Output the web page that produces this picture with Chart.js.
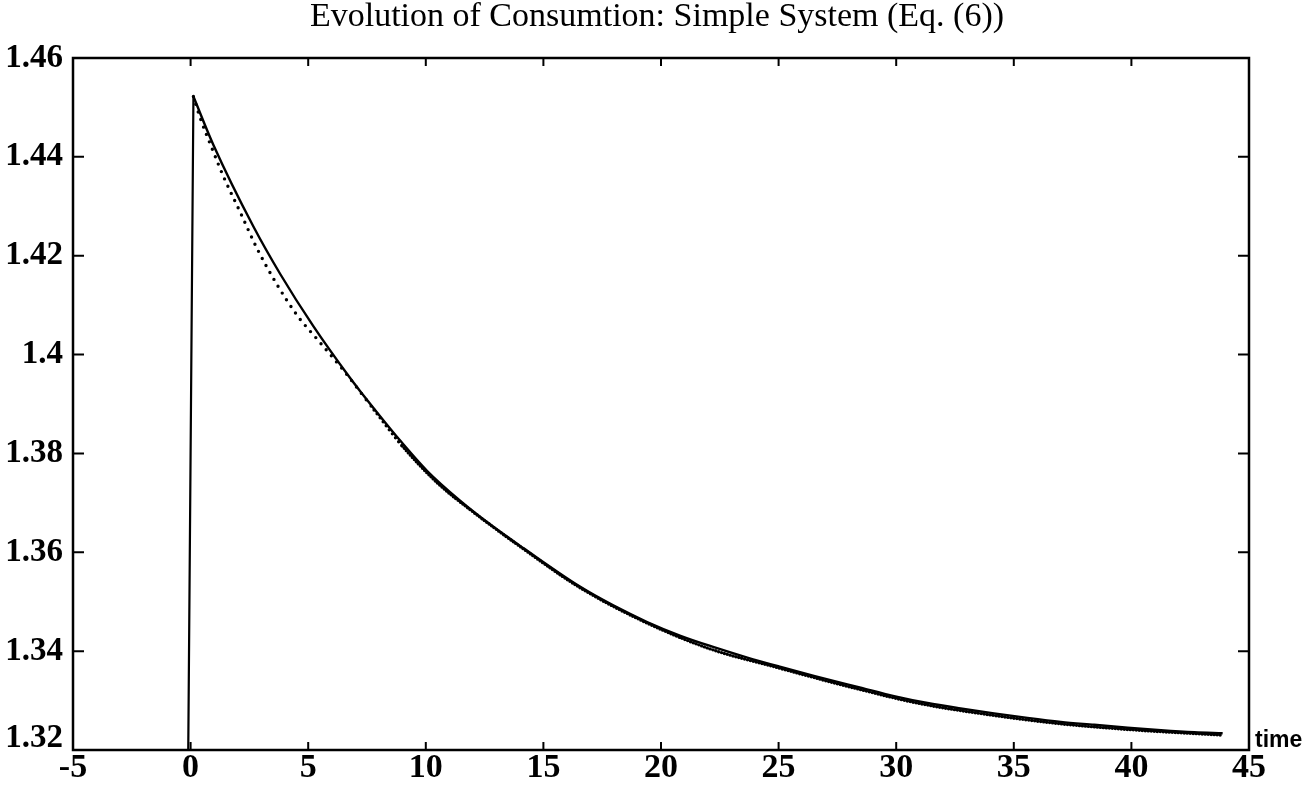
<!DOCTYPE html>
<html>
<head>
<meta charset="utf-8">
<script src="https://cdn.jsdelivr.net/npm/chart.js@4.4.0/dist/chart.umd.min.js"></script>
<style>
  html, body { margin: 0; padding: 0; background: #ffffff; }
  #wrap { width: 1314px; height: 788px; }
</style>
</head>
<body>
<div id="wrap"><canvas id="c" width="1314" height="788"></canvas></div>
<script>
const titleText = 'Evolution of Consumtion: Simple System (Eq. (6))';
const xAxisLabel = 'time';

const xTicks = [-5, 0, 5, 10, 15, 20, 25, 30, 35, 40, 45];
const xTickLabels = ['-5', '0', '5', '10', '15', '20', '25', '30', '35', '40', '45'];
const yTicks = [1.32, 1.34, 1.36, 1.38, 1.40, 1.42, 1.44, 1.46];
const yTickLabels = ['1.32', '1.34', '1.36', '1.38', '1.4', '1.42', '1.44', '1.46'];

// consumption before the shock and the jump at t = 0
const jumpTime  = [-5, -0.1, 0.12];
const jumpValue = [1.32, 1.32, 1.4522];

// solid path after the jump
const solidTime  = [0.12, 0.97, 2.67, 3.81, 5.21, 6.79, 7.21, 8.91, 10.05, 11.47, 12.89, 14.16,
                    16.57, 17.99, 19.41, 20.83, 22.25, 23.67, 25.09, 26.50, 28.49, 29.91, 31.33,
                    32.74, 34.16, 35.58, 37.00, 38.42, 39.84, 41.26, 42.68, 43.88];
const solidValue = [1.4522, 1.4424, 1.4259, 1.4163, 1.4058, 1.3952, 1.3926, 1.3826, 1.3765, 1.3704,
                    1.3651, 1.3608, 1.3530, 1.3492, 1.3459, 1.3431, 1.3408, 1.3387, 1.3368, 1.3350,
                    1.3326, 1.3309, 1.3295, 1.3284, 1.3274, 1.3265, 1.3257, 1.3251, 1.3245, 1.3240,
                    1.3236, 1.3234];

// dotted path after the jump
const dottedTime  = [0.12, 0.40, 0.97, 1.40, 2.11, 2.82, 3.67, 4.52, 5.51, 6.50, 7.80, 9.00, 10.5,
                     12.0, 14.0, 16.5, 19.0, 22.0, 25.0, 28.0, 31.0, 34.0, 37.0, 40.0, 43.88];
const dottedValue = [1.4522, 1.4480, 1.4410, 1.4360, 1.4288, 1.4215, 1.4142, 1.4080, 1.4024, 1.3968,
                     1.3888, 1.3815, 1.3740, 1.3682, 1.3612, 1.3530, 1.3466, 1.3406, 1.3366, 1.3328,
                     1.3294, 1.3271, 1.3253, 1.3241, 1.3230];

const pts = (xs, ys) => xs.map((x, i) => ({ x: x, y: ys[i] }));

const serif = '"Liberation Serif", "Times New Roman", Times, serif';

// dot spacing of the dotted path: wide near the jump, tight where it runs into the solid path
const dotDash = t => (t >= 9 ? [0, 3] : t >= 7.8 ? [0, 5] : [0, 8]);

// box frame, inward tick marks, axis name and the raised bottom y label
const framePlugin = {
  id: 'frame',
  afterDraw(chart) {
    const { ctx, chartArea: a, scales } = chart;
    const x = scales.x, y = scales.y;
    ctx.save();
    ctx.strokeStyle = '#000';
    ctx.lineWidth = 2.5;
    ctx.strokeRect(a.left, a.top, a.right - a.left, a.bottom - a.top);
    ctx.lineWidth = 2;
    ctx.beginPath();
    xTicks.slice(1, -1).forEach(v => {
      const px = x.getPixelForValue(v);
      ctx.moveTo(px, a.top); ctx.lineTo(px, a.top + 8);
      ctx.moveTo(px, a.bottom); ctx.lineTo(px, a.bottom - 8);
    });
    yTicks.slice(1, -1).forEach(v => {
      const py = y.getPixelForValue(v);
      ctx.moveTo(a.left, py); ctx.lineTo(a.left + 11, py);
      ctx.moveTo(a.right, py); ctx.lineTo(a.right - 11, py);
    });
    ctx.stroke();

    ctx.fillStyle = '#000';
    ctx.font = 'bold 23px "Liberation Sans", Arial, sans-serif';
    ctx.textAlign = 'left';
    ctx.textBaseline = 'alphabetic';
    ctx.fillText(xAxisLabel, a.right + 6, a.bottom - 3);

    ctx.font = 'bold 33px ' + serif;
    ctx.textAlign = 'right';
    ctx.textBaseline = 'middle';
    ctx.fillText(yTickLabels[0], a.left - 10, y.getPixelForValue(yTicks[0]) - 12);
    ctx.restore();
  }
};

new Chart(document.getElementById('c'), {
  type: 'line',
  data: {
    datasets: [
      {
        label: 'jump',
        data: pts(jumpTime, jumpValue),
        borderColor: '#000',
        borderWidth: 2.2,
        pointRadius: 0,
        tension: 0
      },
      {
        label: 'solid',
        data: pts(solidTime, solidValue),
        borderColor: '#000',
        borderWidth: 2.4,
        pointRadius: 0,
        cubicInterpolationMode: 'monotone'
      },
      {
        label: 'dotted',
        data: pts(dottedTime, dottedValue),
        borderColor: '#000',
        borderWidth: 3.4,
        borderCapStyle: 'round',
        borderDash: [0, 8],
        pointRadius: 0,
        cubicInterpolationMode: 'monotone',
        segment: {
          borderDash: ctx => dotDash(ctx.p0.parsed.x)
        }
      }
    ]
  },
  options: {
    responsive: false,
    animation: false,
    devicePixelRatio: 1,
    layout: { padding: 0 },
    plugins: {
      legend: { display: false },
      tooltip: { enabled: false },
      title: {
        display: true,
        text: titleText,
        color: '#000',
        font: { family: serif, size: 34, weight: 'normal', lineHeight: 0.8 },
        padding: { top: 3, bottom: 27.8 }
      }
    },
    scales: {
      x: {
        type: 'linear',
        min: -5,
        max: 45,
        afterBuildTicks: s => { s.ticks = xTicks.map(v => ({ value: v })); },
        afterFit: s => { s.height = 38; },
        grid: { display: false, drawTicks: false },
        border: { display: false },
        ticks: {
          autoSkip: false,
          maxRotation: 0,
          padding: 0,
          color: '#000',
          font: { family: serif, size: 34, weight: 'bold', lineHeight: 1.1 },
          callback: (v, i) => xTickLabels[i]
        }
      },
      y: {
        type: 'linear',
        min: 1.32,
        max: 1.46,
        afterBuildTicks: s => { s.ticks = yTicks.map(v => ({ value: v })); },
        afterFit: s => { s.width = 73; },
        grid: { display: false, drawTicks: false },
        border: { display: false },
        ticks: {
          autoSkip: false,
          padding: 10,
          color: '#000',
          font: { family: serif, size: 33, weight: 'bold' },
          callback: (v, i) => (i === 0 ? '' : yTickLabels[i])
        }
      },
      // empty right-hand margin that holds the axis name
      yRight: {
        type: 'linear',
        position: 'right',
        afterFit: s => { s.width = 65; },
        grid: { display: false, drawTicks: false },
        border: { display: false },
        ticks: { display: false }
      }
    }
  },
  plugins: [framePlugin]
});
</script>
</body>
</html>
